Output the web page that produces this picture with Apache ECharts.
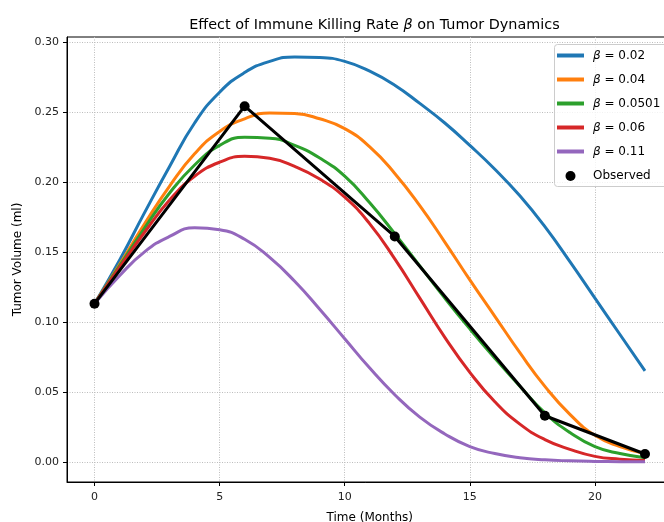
<!DOCTYPE html>
<html>
<head>
<meta charset="utf-8">
<script src="https://cdn.jsdelivr.net/npm/echarts@6/dist/echarts.min.js"></script>
<style>
  html, body { margin: 0; padding: 0; background: #fff; }
  #chart { width: 664px; height: 522px; }
</style>
</head>
<body>
<div id="chart"></div>
<script>
// Months sampled for the model curves
const months = [0, 1, 2, 3, 4, 5, 6, 7, 8, 9, 10, 11, 12, 13, 14, 15, 16, 17, 18, 19, 20, 21, 22];

const betas = ['0.02', '0.04', '0.0501', '0.06', '0.11'];
const betaColors = ['#1f77b4', '#ff7f0e', '#2ca02c', '#d62728', '#9467bd'];

// Tumor volume (ml) per beta
const volBeta002 = [0.113, 0.144, 0.178, 0.211, 0.242, 0.264, 0.278, 0.286, 0.2892, 0.2888, 0.286, 0.279, 0.269, 0.256, 0.242, 0.226, 0.209, 0.190, 0.168, 0.143, 0.117, 0.091, 0.065];
const volBeta004 = [0.113, 0.141, 0.170, 0.197, 0.220, 0.236, 0.245, 0.2492, 0.2488, 0.245, 0.238, 0.225, 0.206, 0.183, 0.157, 0.130, 0.104, 0.078, 0.054, 0.034, 0.019, 0.011, 0.006];
const volBeta0501 = [0.113, 0.140, 0.167, 0.192, 0.212, 0.226, 0.2318, 0.2312, 0.226, 0.217, 0.204, 0.185, 0.163, 0.140, 0.117, 0.095, 0.074, 0.054, 0.035, 0.021, 0.011, 0.006, 0.003];
const volBeta006 = [0.113, 0.139, 0.164, 0.187, 0.204, 0.214, 0.2182, 0.2168, 0.211, 0.202, 0.189, 0.170, 0.145, 0.117, 0.089, 0.064, 0.043, 0.027, 0.016, 0.009, 0.004, 0.002, 0.001];
const volBeta011 = [0.113, 0.133, 0.150, 0.161, 0.1672, 0.1658, 0.159, 0.146, 0.129, 0.109, 0.088, 0.067, 0.048, 0.032, 0.020, 0.011, 0.006, 0.003, 0.0015, 0.0008, 0.0004, 0.0002, 0.0001];
const betaVolumes = [volBeta002, volBeta004, volBeta0501, volBeta006, volBeta011];

// Observed data
const obsMonths = [0, 6, 12, 18, 22];
const obsVolumes = [0.113, 0.254, 0.161, 0.033, 0.0057];

// Tick labels
const xTicks = [0, 5, 10, 15, 20];
const yTicks = [0, 0.05, 0.10, 0.15, 0.20, 0.25, 0.30];

const chart = echarts.init(document.getElementById('chart'));
const font = 'DejaVu Sans';
const gridColor = '#bdbdbd';

const betaNames = betas.map(b => 'β = ' + b);

const series = betaNames.map((name, i) => ({
  name: name,
  type: 'line',
  data: months.map((m, j) => [m, betaVolumes[i][j]]),
  smooth: 0.5,
  showSymbol: false,
  symbol: 'none',
  color: betaColors[i],
  lineStyle: { width: 3, color: betaColors[i] }
}));

series.push({
  name: 'Observed',
  type: 'line',
  data: obsMonths.map((m, j) => [m, obsVolumes[j]]),
  symbol: 'circle',
  symbolSize: 10,
  color: '#000',
  itemStyle: { color: '#000' },
  lineStyle: { width: 3, color: '#000' }
});

const legendText = {
  fontFamily: font,
  fontSize: 12,
  color: '#000',
  lineHeight: 14,
  padding: [0, 0, 0, 4],
  rich: {
    i: { fontFamily: font, fontSize: 12, fontStyle: 'italic', color: '#000', lineHeight: 14 }
  }
};

const option = {
  animation: false,
  backgroundColor: '#fff',
  title: {
    text: '{a|Effect of Immune Killing Rate }{b|β}{a| on Tumor Dynamics}',
    left: 369.5,
    top: 13,
    textAlign: 'center',
    textStyle: {
      rich: {
        a: { fontFamily: font, fontSize: 14.4, fontWeight: 'normal', color: '#000' },
        b: { fontFamily: font, fontSize: 14.4, fontWeight: 'normal', fontStyle: 'italic', color: '#000' }
      }
    }
  },
  grid: {
    left: 67,
    top: 37,
    right: -8.5,
    bottom: 40,
    show: true,
    borderColor: '#000',
    borderWidth: 1,
    containLabel: false,
    outerBoundsMode: 'none'
  },
  // legend frame, running past the right edge like the reference
  graphic: [
    {
      type: 'rect',
      z: 10,
      shape: { x: 554.5, y: 44.5, width: 130, height: 142, r: 3 },
      style: { fill: 'rgba(255,255,255,0.8)', stroke: '#cccccc', lineWidth: 1 }
    }
  ],
  legend: [
    {
      data: betaNames,
      orient: 'vertical',
      left: 554,
      top: 44.5,
      z: 20,
      icon: 'rect',
      itemWidth: 27,
      itemHeight: 4,
      itemGap: 10,
      padding: [4, 24, 27, 3],
      formatter: name => name.replace('β', '{i|β}'),
      textStyle: legendText
    },
    {
      data: ['Observed'],
      orient: 'vertical',
      left: 565.5,
      top: 169,
      z: 20,
      icon: 'circle',
      itemWidth: 27,
      itemHeight: 10,
      padding: 0,
      textStyle: legendText
    }
  ],
  xAxis: {
    type: 'value',
    min: -1.1,
    max: 23.1,
    name: 'Time (Months)',
    nameLocation: 'middle',
    nameGap: 30,
    nameTextStyle: { fontFamily: font, fontSize: 12, color: '#000' },
    axisLine: { show: true, onZero: false, lineStyle: { color: '#000', width: 1 } },
    axisTick: { show: true, customValues: xTicks, length: 4, lineStyle: { color: '#000' } },
    axisLabel: {
      customValues: xTicks,
      margin: 10,
      fontFamily: font,
      fontSize: 11,
      color: '#222'
    },
    splitLine: { show: true, lineStyle: { color: gridColor, type: [1, 1.5], width: 1 } }
  },
  yAxis: {
    type: 'value',
    min: -0.0143,
    max: 0.3034,
    name: 'Tumor Volume (ml)',
    nameLocation: 'middle',
    nameGap: 37,
    nameTextStyle: { fontFamily: font, fontSize: 12, color: '#000' },
    axisLine: { show: true, onZero: false, lineStyle: { color: '#000', width: 1 } },
    axisTick: { show: true, customValues: yTicks, length: 4, lineStyle: { color: '#000' } },
    axisLabel: {
      customValues: yTicks,
      margin: 8,
      fontFamily: font,
      fontSize: 11,
      color: '#222',
      formatter: v => v.toFixed(2)
    },
    splitLine: { show: true, lineStyle: { color: gridColor, type: [1, 1.5], width: 1 } }
  },
  series: series
};

chart.setOption(option);
</script>
</body>
</html>
